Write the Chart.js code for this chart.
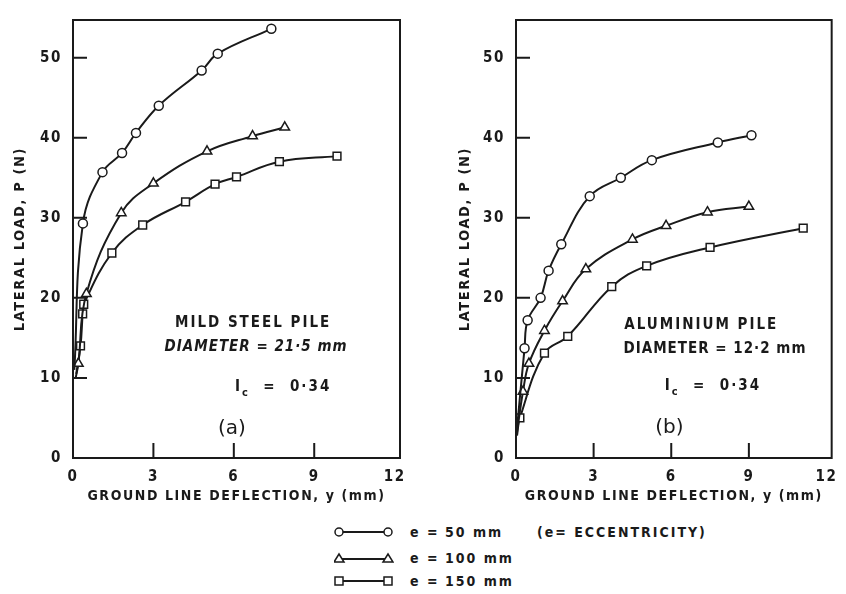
<!DOCTYPE html>
<html>
<head>
<meta charset="utf-8">
<script src="https://cdn.jsdelivr.net/npm/chart.js@4.4.0/dist/chart.umd.min.js"></script>
<style>
  body { margin: 0; background: #fff; width: 846px; height: 594px; position: relative; overflow: hidden;
         font-family: "DejaVu Sans Condensed", "DejaVu Sans", sans-serif; color: #1a1a1a; }
  .pane { position: absolute; top: 0; width: 423px; height: 510px; }
  #paneA { left: 0; }
  #paneB { left: 423px; }
  .row { position: absolute; left: 334px; height: 20px; font-weight: bold; font-size: 14px; letter-spacing: 2px; }
  .row svg { position: absolute; left: 0; top: 2px; }
  .row span { position: absolute; top: 0; line-height: 20px; white-space: nowrap; }
</style>
</head>
<body>
<div class="pane" id="paneA"><canvas id="chartA"></canvas></div>
<div class="pane" id="paneB"><canvas id="chartB"></canvas></div>

<div class="row" style="top:522px">
  <svg width="60" height="16"><line x1="5" y1="8" x2="54" y2="8" stroke="#1a1a1a" stroke-width="2"/>
    <circle cx="5" cy="8" r="4" fill="#fff" stroke="#1a1a1a" stroke-width="1.5"/>
    <circle cx="54" cy="8" r="4" fill="#fff" stroke="#1a1a1a" stroke-width="1.5"/></svg>
  <span style="left:76px">e</span><span style="left:93px">=</span><span style="left:111px">50 mm</span>
  <span style="left:203px">(e= ECCENTRICITY)</span>
</div>
<div class="row" style="top:548px">
  <svg width="60" height="16"><line x1="5" y1="9" x2="54" y2="9" stroke="#1a1a1a" stroke-width="2"/>
    <polygon points="5,4 10,12 0,12" fill="#fff" stroke="#1a1a1a" stroke-width="1.5"/>
    <polygon points="54,4 59,12 49,12" fill="#fff" stroke="#1a1a1a" stroke-width="1.5"/></svg>
  <span style="left:76px">e</span><span style="left:93px">=</span><span style="left:111px">100 mm</span>
</div>
<div class="row" style="top:571px">
  <svg width="60" height="16"><line x1="5" y1="8" x2="54" y2="8" stroke="#1a1a1a" stroke-width="2"/>
    <rect x="1" y="4" width="8" height="8" fill="#fff" stroke="#1a1a1a" stroke-width="1.5"/>
    <rect x="50" y="4" width="8" height="8" fill="#fff" stroke="#1a1a1a" stroke-width="1.5"/></svg>
  <span style="left:76px">e</span><span style="left:93px">=</span><span style="left:111px">150 mm</span>
</div>

<script>
// tick labels
const xTickValues = [0, 3, 6, 9, 12];
const yTickValues = [0, 10, 20, 30, 40, 50];

// (a) mild steel pile -- first entry of each series is where the curve leaves the axis (no marker)
const steelE50x  = [0.05, 0.37, 1.1, 1.83, 2.35, 3.2, 4.8, 5.4, 7.4];
const steelE50y  = [11, 29.3, 35.7, 38.1, 40.6, 44, 48.4, 50.5, 53.6];
const steelE100x = [0.1, 0.2, 0.5, 1.8, 3.0, 5.0, 6.7, 7.9];
const steelE100y = [10, 11.8, 20.5, 30.6, 34.3, 38.3, 40.2, 41.3];
const steelE150x = [0.12, 0.28, 0.36, 0.4, 1.45, 2.6, 4.2, 5.3, 6.1, 7.7, 9.85];
const steelE150y = [10.5, 14, 18, 19.2, 25.6, 29.1, 32, 34.2, 35.1, 37.0, 37.7];

// (b) aluminium pile
const aluE50x  = [0.02, 0.33, 0.45, 0.95, 1.26, 1.75, 2.85, 4.05, 5.25, 7.8, 9.1];
const aluE50y  = [3, 13.7, 17.2, 20.0, 23.4, 26.7, 32.7, 35.0, 37.2, 39.4, 40.3];
const aluE100x = [0.03, 0.27, 0.5, 1.1, 1.8, 2.7, 4.5, 5.8, 7.4, 9.0];
const aluE100y = [3, 8.3, 11.8, 15.9, 19.6, 23.6, 27.3, 29.0, 30.7, 31.4];
const aluE150x = [0.04, 0.15, 1.1, 2.0, 3.7, 5.05, 7.5, 11.1];
const aluE150y = [2.8, 5.0, 13.1, 15.2, 21.4, 24.0, 26.3, 28.7];

const ink = '#1a1a1a';
const condensed = '"DejaVu Sans Condensed", "DejaVu Sans", sans-serif';

function serie(xs, ys, shape, r) {
  return {
    data: xs.map((x, i) => ({ x: x, y: ys[i] })),
    borderColor: ink,
    borderWidth: 2,
    tension: 0.4,
    pointStyle: shape,
    pointRadius: c => c.dataIndex === 0 ? 0 : r,
    pointBackgroundColor: '#fff',
    pointBorderColor: ink,
    pointBorderWidth: 1.5
  };
}

// box, inward ticks and the text written inside the plot
function framePlugin(notes) {
  return {
    id: 'frame',
    beforeDraw(chart) { chart.ctx.letterSpacing = '1.6px'; },
    afterDraw(chart) {
      const ctx = chart.ctx, a = chart.chartArea, sx = chart.scales.x, sy = chart.scales.y;
      ctx.save();
      ctx.strokeStyle = ink;
      ctx.lineWidth = 2;
      ctx.strokeRect(a.left, a.top, a.right - a.left, a.bottom - a.top);
      ctx.beginPath();
      yTickValues.slice(1).forEach(v => {
        const p = sy.getPixelForValue(v);
        ctx.moveTo(a.left, p); ctx.lineTo(a.left + 14, p);
      });
      xTickValues.slice(1, -1).forEach(v => {
        const p = sx.getPixelForValue(v);
        ctx.moveTo(p, a.bottom); ctx.lineTo(p, a.bottom - 15);
      });
      ctx.stroke();

      ctx.fillStyle = ink;
      ctx.textBaseline = 'middle';
      notes.forEach(n => {
        const px = sx.getPixelForValue(n.at[0]), py = sy.getPixelForValue(n.at[1]);
        ctx.letterSpacing = n.spacing + 'px';
        if (n.sub) {
          const big = 'bold 15px ' + condensed, small = 'bold 11px ' + condensed;
          ctx.font = big; const w1 = ctx.measureText('I').width;
          ctx.font = small; const w2 = ctx.measureText('c').width;
          ctx.font = big; const w3 = ctx.measureText(n.text).width;
          let x0 = px - (w1 + w2 + w3) / 2;
          ctx.textAlign = 'left';
          ctx.fillText('I', x0, py);
          ctx.font = small; ctx.fillText('c', x0 + w1, py + 6);
          ctx.font = big; ctx.fillText(n.text, x0 + w1 + w2, py);
        } else {
          ctx.font = n.font;
          ctx.textAlign = 'center';
          ctx.fillText(n.text, px, py);
        }
      });
      ctx.restore();
    }
  };
}

function scaleX(max) {
  return {
    type: 'linear', min: 0, max: max,
    afterBuildTicks: s => { s.ticks = xTickValues.map(v => ({ value: v })); },
    afterFit: s => { s.height = 52; },
    grid: { display: false, drawTicks: false },
    border: { display: false },
    ticks: { color: ink, padding: 10, font: { family: condensed, size: 15, weight: 'bold' } },
    title: { display: true, text: 'GROUND LINE DEFLECTION, y (mm)', color: ink,
             padding: { top: 0, bottom: 5 }, font: { family: condensed, size: 14, weight: 'bold' } }
  };
}

function scaleY(width, titlePad) {
  return {
    type: 'linear', min: 0, max: 54.7,
    afterBuildTicks: s => { s.ticks = yTickValues.map(v => ({ value: v })); },
    afterFit: s => { s.width = width; },
    grid: { display: false, drawTicks: false },
    border: { display: false },
    ticks: { color: ink, padding: 11, font: { family: condensed, size: 15, weight: 'bold' } },
    title: { display: true, text: 'LATERAL LOAD, P (N)', color: ink,
             padding: { top: titlePad, bottom: 0 }, font: { family: condensed, size: 14.5, weight: 'bold' } }
  };
}

function makeChart(id, sets, notes, yWidth, titlePad, padRight) {
  return new Chart(document.getElementById(id), {
    type: 'line',
    data: { datasets: sets },
    options: {
      responsive: true, maintainAspectRatio: false, animation: false,
      layout: { padding: { top: 8, right: padRight, bottom: 0, left: 0 } },
      plugins: { legend: { display: false }, tooltip: { enabled: false } },
      scales: { x: scaleX(12.2), y: scaleY(yWidth, titlePad) }
    },
    plugins: [framePlugin(notes)]
  });
}

makeChart('chartA', [
  serie(steelE50x, steelE50y, 'circle', 4.5),
  serie(steelE100x, steelE100y, 'triangle', 5.5),
  serie(steelE150x, steelE150y, 'rect', 5.5)
], [
  { text: 'MILD STEEL PILE', at: [6.72, 16.8], font: 'bold 15px ' + condensed, spacing: 2 },
  { text: 'DIAMETER = 21·5 mm', at: [6.83, 13.8], font: 'italic bold 15px ' + condensed, spacing: 1 },
  { text: '  =  0·34', at: [7.84, 8.9], sub: true, spacing: 2 },
  { text: '(a)', at: [5.93, 3.7], font: '20px "DejaVu Sans", sans-serif', spacing: 0 }
], 73, 12, 23);

makeChart('chartB', [
  serie(aluE50x, aluE50y, 'circle', 4.5),
  serie(aluE100x, aluE100y, 'triangle', 5.5),
  serie(aluE150x, aluE150y, 'rect', 5.5)
], [
  { text: 'ALUMINIUM PILE', at: [7.16, 16.6], font: 'bold 15px ' + condensed, spacing: 2 },
  { text: 'DIAMETER = 12·2 mm', at: [7.69, 13.6], font: 'bold 15px ' + condensed, spacing: 1 },
  { text: '  =  0·34', at: [7.61, 9.0], sub: true, spacing: 2 },
  { text: '(b)', at: [5.93, 3.8], font: '20px "DejaVu Sans", sans-serif', spacing: 0 }
], 93, 34, 6);
</script>
</body>
</html>
